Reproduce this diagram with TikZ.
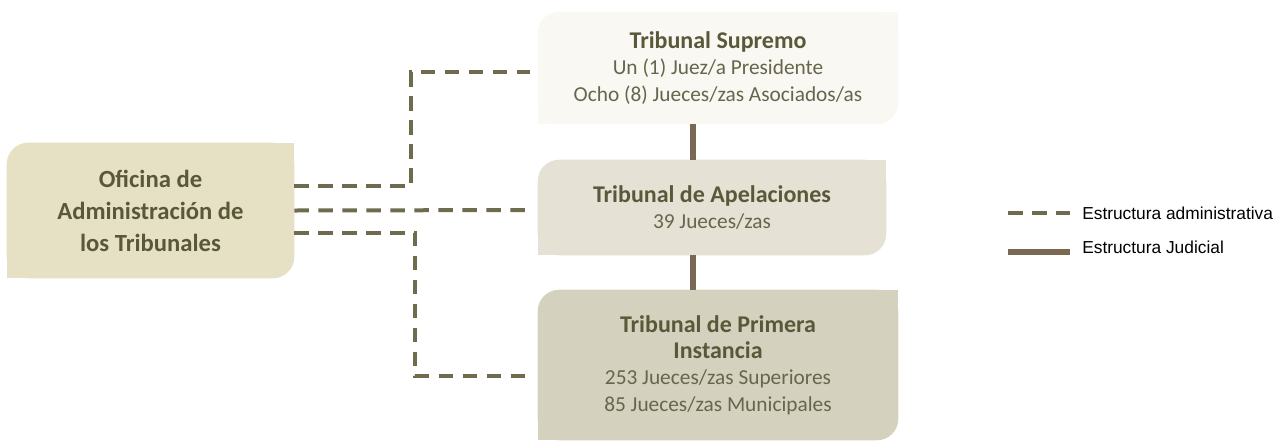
\documentclass[tikz,border=0pt]{standalone}
\usepackage{fontspec}
\setmainfont{Carlito}
\newfontfamily\legendfont{Liberation Sans}
\usetikzlibrary{positioning,backgrounds}

\definecolor{supfill}{HTML}{F9F8F3}
\definecolor{apelfill}{HTML}{E5E1D5}
\definecolor{primfill}{HTML}{D5D1BF}
\definecolor{ofifill}{HTML}{E6E1C4}
\definecolor{adminline}{HTML}{6E6B4F}
\definecolor{judline}{HTML}{7A6853}
\definecolor{titlecol}{HTML}{595839}
\definecolor{bodycol}{HTML}{67654B}

% box with two round corners (top left, bottom right)
\newcommand{\leafbox}[2]{%
  \fill[#2, rounded corners=16pt] (#1.south west) rectangle (#1.north east);
  \fill[#2] (#1.north east) rectangle ++(-16pt,-16pt);
  \fill[#2] (#1.south west) rectangle ++(16pt,16pt);}

\newcommand{\ttl}[1]{{\fontsize{18}{22.5}\selectfont\bfseries\color{titlecol}#1}}

\begin{document}
\begin{tikzpicture}[x=0.75pt, y=-0.75pt,
  box/.style={inner sep=0pt, align=center, text=bodycol, font=\fontsize{16}{19.75}\selectfont},
  admin/.style={draw=adminline, line width=3pt, dash pattern=on 11pt off 7pt},
  judicial/.style={draw=judline, line width=4.5pt}]
\useasboundingbox (0,0) rectangle (1286,440);

% Tribunal Supremo
\node[box, minimum width=270pt, minimum height=84pt] (sup) at (718,68)
  {\ttl{Tribunal Supremo}\\ Un (1) Juez/a Presidente\\ Ocho (8) Jueces/zas Asociados/as};

% Tribunal de Apelaciones
\node[box, minimum width=261pt, minimum height=71.25pt] (apel) at (712,207.5)
  {\ttl{Tribunal de Apelaciones}\\ 39 Jueces/zas};

% Tribunal de Primera Instancia
\node[box, minimum width=270pt, minimum height=112.5pt] (prim) at (718,365)
  {\ttl{Tribunal de Primera}\\ \ttl{Instancia}\\ 253 Jueces/zas Superiores\\ 85 Jueces/zas Municipales};

% Oficina de Administracion
\node[box, minimum width=215.25pt, minimum height=101.25pt,
  font=\fontsize{18.5}{24}\selectfont\bfseries, text=titlecol] (ofi) at (150.5,210.5)
  {Oficina de\\ Administración de\\ los Tribunales};

\begin{scope}[on background layer]
\leafbox{sup}{supfill}
\leafbox{apel}{apelfill}
\leafbox{prim}{primfill}
\leafbox{ofi}{ofifill}
\end{scope}

% judicial line
\coordinate (axis) at (693,0);
\draw[judicial] (sup.south -| axis) -- (apel.north -| axis);
\draw[judicial] (apel.south -| axis) -- (prim.north -| axis);

% administrative lines
\draw[admin] ([yshift=18.75pt]ofi.east) -- ++(117,0) |- ([xshift=-6pt,yshift=-3pt]sup.west);
\draw[admin] (ofi.east) -- ([xshift=-6pt,yshift=-1.9pt]apel.west);
\draw[admin] ([yshift=-16.5pt]ofi.east) -- ++(121,0) |- ([xshift=-6pt,yshift=-8.25pt]prim.west);

% legend
\coordinate (la1) at (1008,213);
\coordinate (la2) at (1070,213);
\coordinate (lj1) at (1008,252);
\coordinate (lj2) at (1070,252);
\draw[admin] (la1) -- (la2);
\draw[judicial] (lj1) -- (lj2);
\node[right=9pt of la2, inner sep=0pt, font=\legendfont\fontsize{13}{15}\selectfont] (ladmin) {Estructura administrativa};
\node[right=9pt of lj2, inner sep=0pt, font=\legendfont\fontsize{13}{15}\selectfont, yshift=3.5pt] (ljud) {Estructura Judicial};
\end{tikzpicture}
\end{document}
